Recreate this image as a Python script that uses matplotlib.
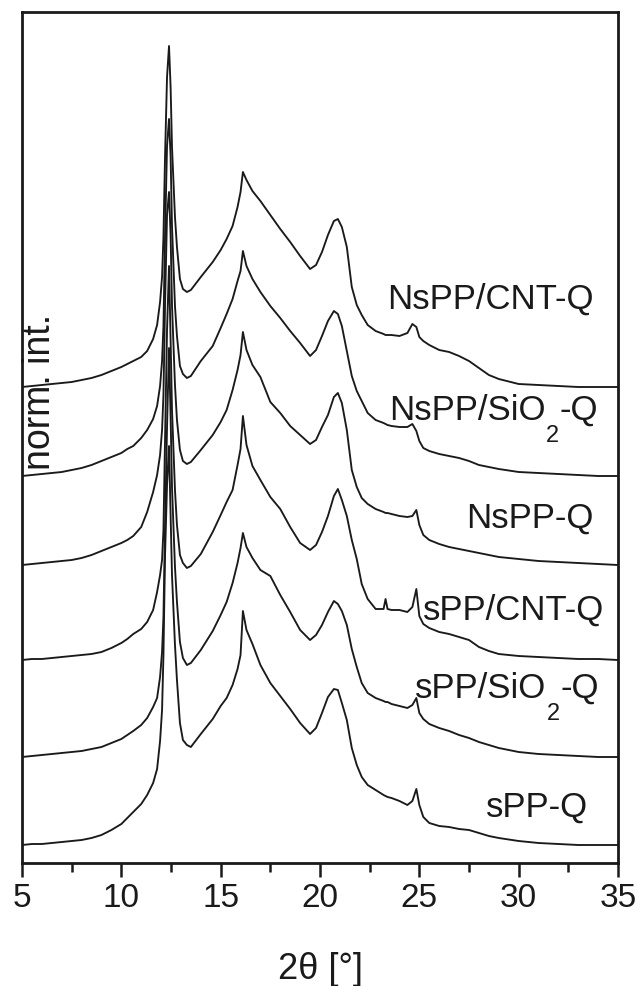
import matplotlib
matplotlib.use("Agg")
import matplotlib.pyplot as plt
import numpy as np
from matplotlib.ticker import MultipleLocator

plt.rcParams["font.family"] = ["Liberation Sans", "DejaVu Sans"]

# 2-theta sampling positions (degrees)
two_theta = [5.0, 5.5, 6.0, 6.5, 7.0, 7.5, 8.0, 8.5, 9.0, 9.5, 10.0, 10.3, 10.6,
             11.0, 11.3, 11.6, 11.8, 11.95,
             12.05, 12.12, 12.2, 12.3, 12.4, 12.48, 12.55, 12.7, 12.8, 12.95, 13.1,
             13.3, 13.5, 14.0, 14.6, 15.0, 15.3, 15.6, 15.85, 16.0, 16.12, 16.3,
             16.6, 17.0, 17.5, 18.0, 18.5, 19.0, 19.5, 19.8, 20.1, 20.4, 20.7, 20.9,
             21.1, 21.35, 21.6, 21.85, 22.1, 22.4, 22.8, 23.2, 23.3, 23.4, 23.6,
             24.0, 24.4, 24.65, 24.85, 25.0, 25.2, 25.5, 26.0, 26.5, 27.0, 27.5,
             28.0, 28.5, 29.0, 30.0, 31.0, 32.0, 33.0, 34.0, 35.0]

# normalized intensities (a.u.), one pattern per sample
nspp_cnt = [0, 1, 2, 3, 4, 5, 7, 9, 12, 16, 20, 23, 26,
            30, 36, 48, 62, 85, 110, 150, 230, 310, 341, 300,
            240, 170, 140, 108, 98, 95, 97, 110, 125, 137, 148, 161, 180, 195, 215,
            207, 196, 186, 172, 158, 145, 131, 118, 122, 135, 152, 166, 168, 160, 140,
            100, 82, 72, 62, 56, 53, 52, 52, 52, 51, 54, 63, 60, 50, 46, 42, 37, 35,
            31, 26, 19, 12, 8, 3, 2, 1, 0, 0, 0]
nspp_sio2 = [0, 1, 2, 3, 4, 6, 8, 11, 15, 19, 23, 27, 30,
             38, 46, 57, 70, 90, 115, 150, 240, 330, 357, 320,
             250, 170, 140, 110, 102, 98, 100, 115, 130, 148, 162, 177, 195, 205, 225,
             210, 197, 184, 170, 158, 145, 133, 120, 126, 140, 155, 165, 162, 150, 125,
             100, 85, 75, 63, 56, 53, 52, 51, 50, 49, 49, 52, 45, 35, 28, 25, 22, 20,
             18, 15, 11, 9, 7, 4, 3, 2, 1, 0, 0]
nspp = [0, 1, 2, 3, 4, 5, 7, 10, 14, 18, 22, 25, 29,
        38, 53, 73, 90, 110, 135, 170, 260, 350, 373, 330,
        260, 180, 145, 115, 104, 101, 103, 115, 130, 143, 155, 175, 195, 210, 233,
        215, 200, 188, 163, 152, 139, 130, 121, 125, 138, 150, 168, 172, 162, 135,
        95, 78, 67, 61, 56, 53, 52, 52, 51, 49, 48, 49, 55, 40, 30, 25, 21, 18, 16,
        14, 12, 10, 8, 6, 4, 3, 2, 1, 0]
spp_cnt = [0, 1, 1, 2, 3, 4, 5, 6, 8, 12, 17, 21, 26,
           31, 38, 50, 68, 85, 100, 130, 220, 330, 394, 320,
           250, 170, 135, 105, 97, 92, 94, 106, 128, 145, 158, 170, 195, 211, 244,
           215, 194, 180, 163, 151, 133, 117, 110, 115, 128, 144, 164, 171, 160, 144,
           120, 101, 76, 61, 51, 51, 61, 51, 50, 50, 48, 53, 71, 44, 36, 32, 28, 26,
           23, 20, 13, 9, 6, 4, 3, 2, 1, 1, 0]
spp_sio2 = [0, 1, 2, 3, 4, 5, 6, 8, 10, 14, 18, 22, 26,
            32, 39, 50, 59, 80, 105, 140, 230, 330, 409, 340,
            270, 190, 155, 115, 99, 92, 94, 107, 126, 142, 155, 174, 194, 209, 224,
            210, 199, 187, 181, 162, 145, 127, 117, 122, 132, 145, 156, 153, 146, 132,
            108, 90, 74, 64, 59, 56, 55, 55, 53, 51, 49, 52, 59, 44, 38, 33, 29, 26,
            22, 19, 15, 12, 9, 5, 3, 2, 1, 0, 0]
spp = [0, 1, 1, 2, 3, 4, 5, 7, 10, 15, 21, 27, 33,
       41, 50, 62, 76, 104, 135, 190, 290, 360, 399, 330,
       270, 200, 165, 122, 105, 100, 98, 111, 126, 139, 147, 160, 176, 190, 234,
       215, 201, 180, 162, 149, 136, 122, 111, 117, 132, 148, 156, 155, 142, 125,
       97, 80, 68, 60, 55, 50, 49, 48, 47, 44, 40, 44, 56, 40, 28, 22, 19, 18, 16,
       15, 12, 9, 7, 4, 2, 1, 0, 0, 0]

# sample labels: (main text, subscript, trailing text)
sample_names = [("NsPP/CNT-Q", "", ""), ("NsPP/SiO", "2", "-Q"), ("NsPP-Q", "", ""),
                ("sPP/CNT-Q", "", ""), ("sPP/SiO", "2", "-Q"), ("sPP-Q", "", "")]
patterns = [nspp_cnt, nspp_sio2, nspp, spp_cnt, spp_sio2, spp]
stack_offsets = [476, 387, 298, 203, 106, 18]

ink = "#1a1a1a"
fig = plt.figure(figsize=(6.39, 9.87), dpi=100)
ax = fig.add_axes([22 / 639, 1 - 864 / 987, 596 / 639, 851 / 987])

x = np.asarray(two_theta)
for pat, off in zip(patterns, stack_offsets):
    ax.plot(x, np.asarray(pat) + off, color=ink, lw=1.35, solid_joinstyle="round")

# sample labels (left edge in 2-theta, baseline in stacked intensity)
label_pos = [(23.37, 555), (23.47, 444), (27.35, 336),
             (25.18, 244), (24.78, 166), (28.36, 47)]
for (main, sub, tail), (lx, ly) in zip(sample_names, label_pos):
    t1 = ax.text(lx, ly, main, fontsize=25, ha="left", va="baseline", color=ink)
    if sub:
        t2 = ax.annotate(sub, xy=(1, 0), xycoords=t1, xytext=(0.5, -11),
                         textcoords="offset points", fontsize=17, ha="left",
                         va="baseline", color=ink)
        ax.annotate(tail, xy=(1, 0), xycoords=(t2, t1), xytext=(0.5, 0),
                    textcoords="offset points", fontsize=25, ha="left",
                    va="bottom", color=ink)

ax.text(0.030, 0.555, "norm. int.", transform=ax.transAxes, rotation=90,
        fontsize=27, ha="center", va="center", color=ink)

ax.set_xlim(5, 35)
ax.set_ylim(0, 851)
ax.xaxis.set_major_locator(MultipleLocator(5))
ax.xaxis.set_minor_locator(MultipleLocator(2.5))
ax.set_yticks([])
ax.tick_params(axis="x", which="major", direction="out", length=10, width=1.8,
               labelsize=24, pad=4, colors=ink)
ax.tick_params(axis="x", which="minor", direction="out", length=6.5, width=1.8,
               colors=ink)
for sp in ax.spines.values():
    sp.set_linewidth(2.0)
    sp.set_color(ink)

fig.text(320 / 639, (987 - 979) / 987, "2θ [°]", fontsize=26, ha="center",
         va="baseline", color=ink)

fig.savefig("out.png", dpi=100)
